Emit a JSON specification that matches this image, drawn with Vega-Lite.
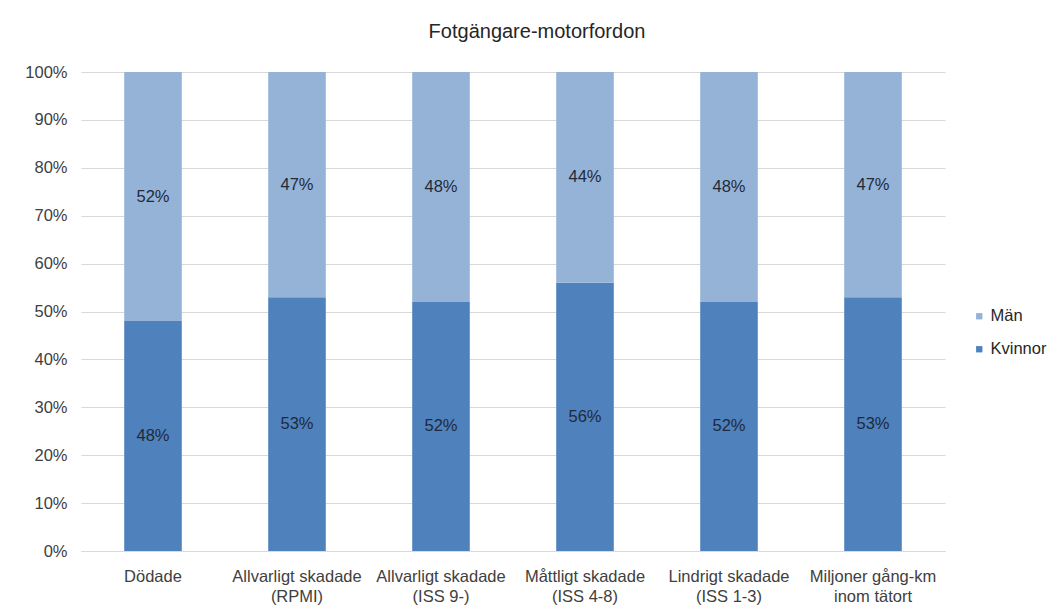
{
  "$schema": "https://vega.github.io/schema/vega-lite/v6.json",
  "autosize": "none",
  "width": 864,
  "height": 479,
  "padding": {"left": 81, "top": 72, "right": 114, "bottom": 54},
  "background": "white",
  "title": {
    "text": "Fotgängare-motorfordon",
    "font": "Liberation Sans",
    "fontSize": 20,
    "fontWeight": "normal",
    "color": "#262626",
    "anchor": "middle",
    "dx": 24,
    "offset": 22
  },
  "data": {
    "values": [
      {"kategori": "Dödade", "kon": "Kvinnor", "andel": 48},
      {"kategori": "Dödade", "kon": "Män", "andel": 52},
      {"kategori": "Allvarligt skadade (RPMI)", "kon": "Kvinnor", "andel": 53},
      {"kategori": "Allvarligt skadade (RPMI)", "kon": "Män", "andel": 47},
      {"kategori": "Allvarligt skadade (ISS 9-)", "kon": "Kvinnor", "andel": 52},
      {"kategori": "Allvarligt skadade (ISS 9-)", "kon": "Män", "andel": 48},
      {"kategori": "Måttligt skadade (ISS 4-8)", "kon": "Kvinnor", "andel": 56},
      {"kategori": "Måttligt skadade (ISS 4-8)", "kon": "Män", "andel": 44},
      {"kategori": "Lindrigt skadade (ISS 1-3)", "kon": "Kvinnor", "andel": 52},
      {"kategori": "Lindrigt skadade (ISS 1-3)", "kon": "Män", "andel": 48},
      {"kategori": "Miljoner gång-km inom tätort", "kon": "Kvinnor", "andel": 53},
      {"kategori": "Miljoner gång-km inom tätort", "kon": "Män", "andel": 47}
    ]
  },
  "transform": [
    {
      "stack": "andel",
      "groupby": ["kategori"],
      "sort": [{"field": "kon", "order": "ascending"}],
      "as": ["y0", "y1"]
    },
    {"calculate": "(datum.y0 + datum.y1) / 2", "as": "mitt"}
  ],
  "encoding": {
    "x": {
      "field": "kategori",
      "type": "nominal",
      "sort": null,
      "title": null,
      "scale": {"paddingInner": 0.6, "paddingOuter": 0.3},
      "axis": {
        "labelAngle": 0,
        "labelFont": "Liberation Sans",
        "labelFontSize": 16.5,
        "labelColor": "#404040",
        "labelPadding": 17,
        "labelLineHeight": 20,
        "labelExpr": "split(replace(replace(datum.label, ' (', '\\n('), ' inom', '\\ninom'), '\\n')",
        "ticks": false,
        "domainColor": "#D9D9D9",
        "domainWidth": 1,
        "labelBaseline": "top"
      }
    }
  },
  "layer": [
    {
      "mark": {"type": "bar"},
      "encoding": {
        "y": {
          "field": "y0",
          "type": "quantitative",
          "scale": {"domain": [0, 100]},
          "title": null,
          "axis": {
            "values": [0, 10, 20, 30, 40, 50, 60, 70, 80, 90, 100],
            "labelExpr": "datum.value + '%'",
            "labelFont": "Liberation Sans",
            "labelFontSize": 16.5,
            "labelColor": "#404040",
            "labelPadding": 14,
            "ticks": false,
            "domain": false,
            "grid": true,
            "gridColor": "#D9D9D9",
            "gridWidth": 1
          }
        },
        "y2": {"field": "y1"},
        "color": {
          "field": "kon",
          "type": "nominal",
          "title": null,
          "scale": {"domain": ["Män", "Kvinnor"], "range": ["#95B3D7", "#4F81BD"]},
          "legend": {
            "orient": "none",
            "legendX": 890,
            "legendY": 236,
            "symbolType": "square",
            "symbolSize": 40,
            "symbolStrokeWidth": 0,
            "labelFont": "Liberation Sans",
            "labelFontSize": 16.5,
            "labelColor": "#262626",
            "labelOffset": 3,
            "rowPadding": 16
          }
        }
      }
    },
    {
      "mark": {
        "type": "text",
        "font": "Liberation Sans",
        "fontSize": 16.5,
        "color": "#1F2A3A",
        "baseline": "middle",
        "align": "center",
        "text": {"expr": "datum.andel + '%'"}
      },
      "encoding": {
        "y": {"field": "mitt", "type": "quantitative"}
      }
    }
  ],
  "config": {
    "view": {"stroke": null}
  }
}
